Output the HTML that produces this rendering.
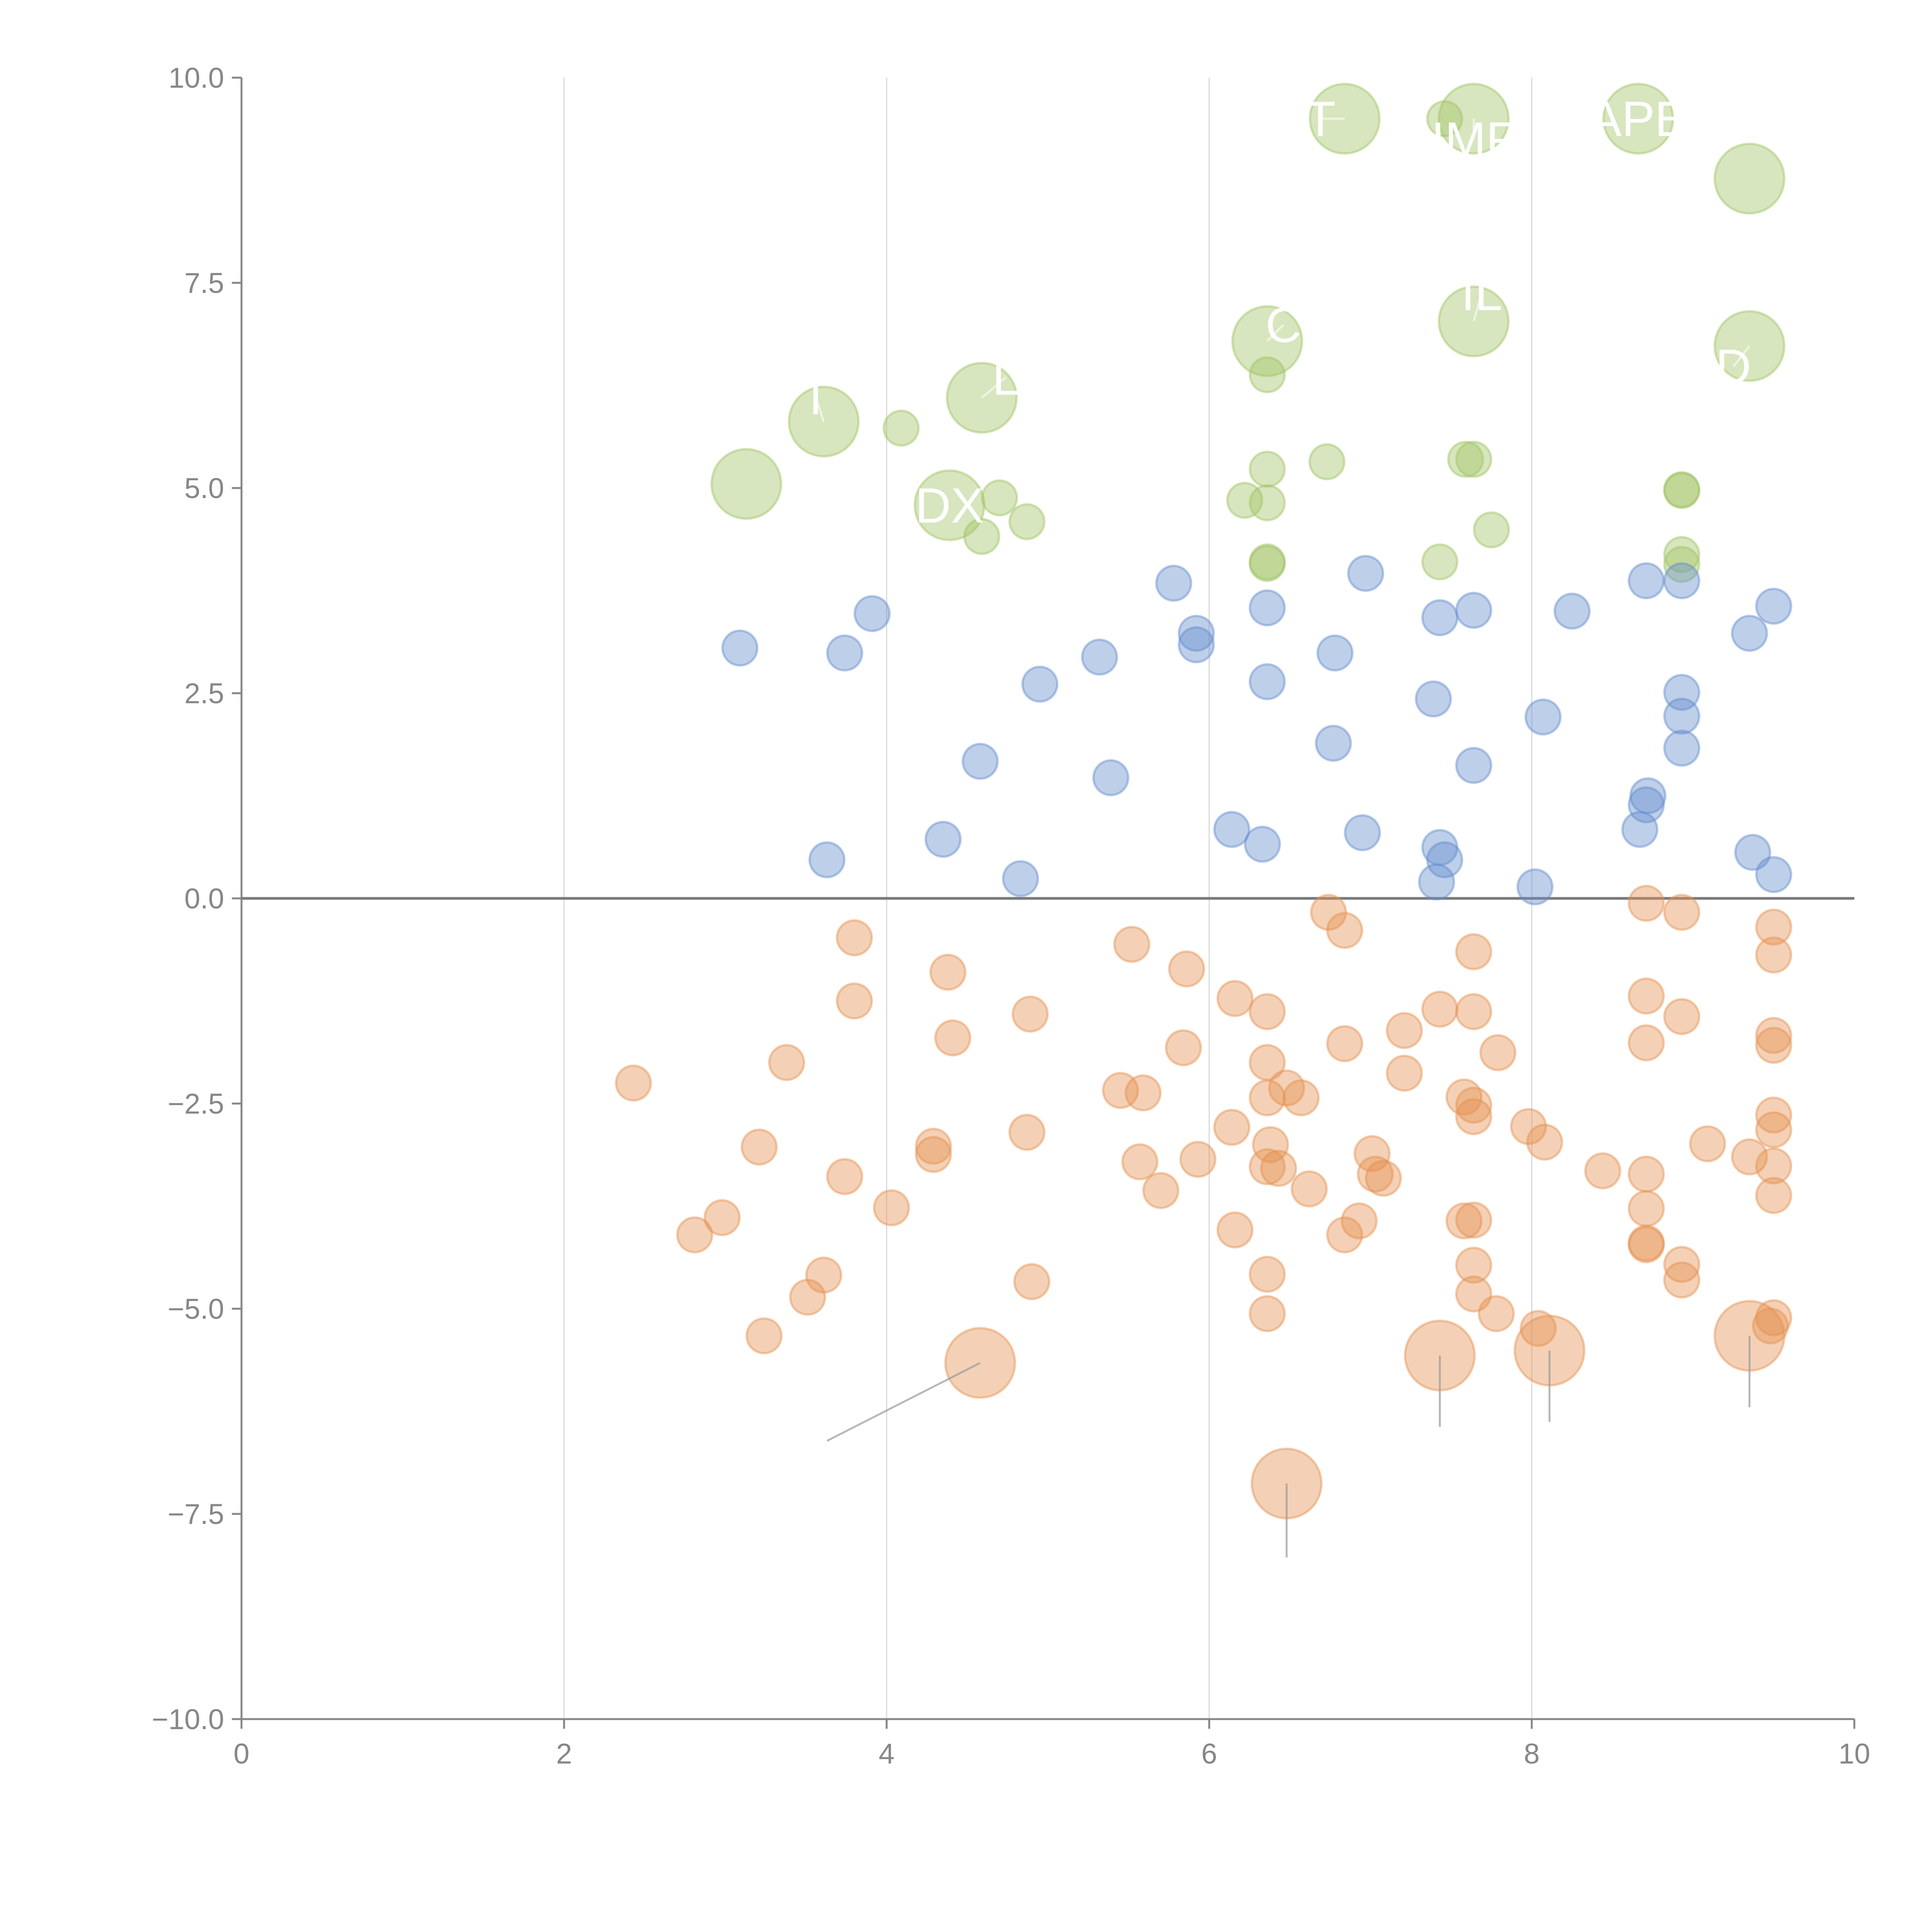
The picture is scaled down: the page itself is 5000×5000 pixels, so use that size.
<!DOCTYPE html>
<html><head><meta charset="utf-8"><style>
html,body{margin:0;padding:0;background:#fff;}
svg{display:block;}
text{font-family:"Liberation Sans",Arial,sans-serif;}
</style></head>
<body>
<svg id="chart" width="5000" height="5000" viewBox="0 0 5000 5000" xmlns="http://www.w3.org/2000/svg">
<g id="grid"></g>
<g id="axes"></g>
<g id="marks"></g>
<g id="labels"></g>
</svg>
<script>
const xTicks = [0, 2, 4, 6, 8, 10];
const yTicks = [-10, -7.5, -5, -2.5, 0, 2.5, 5, 7.5, 10];
const yTickLabels = ["\u221210.0","\u22127.5","\u22125.0","\u22122.5","0.0","2.5","5.0","7.5","10.0"];

const greenX = [7.46,4.09,6.73,7.59,7.64,6.22,6.36,6.36,6.36,4.70,4.59,4.87,6.36,6.36,7.43,7.75,8.93,8.93,8.93,8.93, 6.84,7.64,8.66,9.35,7.64,6.36,9.35,4.59,3.61,3.13,4.39];
const greenY = [9.5,5.73,5.32,5.35,5.35,4.85,5.23,4.82,6.38,4.88,4.41,4.59,4.10,4.08,4.10,4.49,4.98,4.97,4.19,4.07, 9.5,9.5,9.5,8.77,7.03,6.79,6.73,6.10,5.81,5.05,4.79];
const greenS = [1,1,1,1,1,1,1,1,1,1,1,1,1,1,1,1,1,1,1,1, 4,4,4,4,4,4,4,4,4,4,4];

const blueX = [3.09,3.74,3.91,3.63,4.35,4.58,4.83,4.95,5.32,5.39,5.78,5.92,5.92,6.14,6.33,6.36,6.36,6.78,6.77,6.95,6.97,7.39,7.43,7.43,7.46,7.41,7.64,7.64,8.07,8.02,8.25,8.71,8.72,8.71,8.67,8.93,8.93,8.93,8.93,9.35,9.50,9.37,9.50];
const blueY = [3.05,2.99,3.47,0.47,0.72,1.67,0.24,2.61,2.94,1.47,3.84,3.23,3.09,0.84,0.66,3.54,2.64,2.99,1.89,0.80,3.96,2.43,3.42,0.62,0.47,0.20,3.51,1.62,2.21,0.14,3.50,3.87,1.25,1.14,0.84,3.87,2.51,2.22,1.83,3.23,3.56,0.56,0.29];

const orangeX = [2.43,2.81,2.98,3.21,3.24,3.38,3.51,3.61,3.74,3.80,3.80,4.03,4.29,4.29,4.38,4.41,4.87,4.89,4.90,5.45,5.52,5.59,5.57,5.70,5.86,5.84,5.93,6.14,6.16,6.16,6.36,6.36,6.36,6.38,6.36,6.43,6.36,6.36,6.48,6.57,6.62,6.74,6.84,6.84,6.84,6.93,7.01,7.03,7.08,7.21,7.21,7.43,7.58,7.64,7.64,7.64,7.64,7.58,7.64,7.64,7.64,7.78,7.79,7.98,8.08,8.04,8.44,8.71,8.71,8.71,8.71,8.71,8.71,8.71,8.93,8.93,8.93,8.93,9.09,9.35,9.50,9.50,9.50,9.50,9.50,9.50,9.50,9.50,9.50,9.48, 4.58,7.43,8.11,9.35,6.48];
const orangeY = [-2.25,-4.10,-3.89,-3.03,-5.33,-2.00,-4.86,-4.59,-3.39,-0.48,-1.25,-3.77,-3.02,-3.12,-0.90,-1.70,-2.85,-1.41,-4.67,-2.34,-0.56,-2.37,-3.21,-3.56,-0.86,-1.82,-3.18,-2.79,-4.04,-1.22,-1.38,-2.00,-2.43,-3.00,-3.27,-3.29,-4.58,-5.06,-2.31,-2.43,-3.54,-0.17,-0.39,-1.77,-4.10,-3.93,-3.11,-3.36,-3.41,-1.61,-2.13,-1.35,-2.42,-2.52,-2.66,-0.65,-1.38,-3.93,-3.92,-4.47,-4.82,-5.06,-1.88,-2.78,-2.97,-5.24,-3.32,-0.06,-1.19,-1.76,-3.36,-3.78,-4.20,-4.22,-0.17,-1.44,-4.46,-4.65,-2.99,-3.15,-0.35,-0.69,-1.67,-1.79,-2.64,-2.82,-3.26,-3.62,-5.11,-5.21, -5.66,-5.57,-5.51,-5.33,-7.13];
const orangeS = orangeX.map((v,i)=> i >= orangeX.length-5 ? 4 : 1);

const greenLabels = [["T",6.84,9.5,-0.15,0.0],["IMF",7.64,9.5,0.0,-0.25],["APE",8.66,9.5,0.0,0.0],["IL",7.64,7.03,0.05,0.35],["C",6.36,6.79,0.1,0.2],["D",9.35,6.73,-0.1,-0.25],["L",4.59,6.10,0.15,0.25],["T",3.61,5.81,-0.05,0.3],["DX",4.39,4.79,0.0,0.0]];
const orangeLeaders = [[4.58,-5.66,-0.95,-0.95],[7.43,-5.57,0,-0.87],[8.11,-5.51,0,-0.87],[9.35,-5.33,0,-0.87],[6.48,-7.13,0,-0.9]];

const X0=625, X1=4799, YT=201, YB=4449;
const xs = v => X0 + (v-0)/(10-0)*(X1-X0);
const ys = v => YB - (v+10)/20*(YB-YT);
const rs = s => 45*Math.sqrt(s);
const NS="http://www.w3.org/2000/svg";
function mk(tag, parent, attrs){const e=document.createElementNS(NS,tag);for(const k in attrs)e.setAttribute(k,attrs[k]);parent.appendChild(e);return e;}
const grid=document.getElementById('grid'), axes=document.getElementById('axes'), marks=document.getElementById('marks'), labels=document.getElementById('labels');
const GREY="#878787";

xTicks.forEach(t=>{
  if(t>0 && t<10){
    const g=mk('line',grid,{x1:xs(t),x2:xs(t),y1:YT,y2:YB,stroke:"#d9d9d9","stroke-width":3});
    
    
  }
  const tk=mk('line',axes,{x1:xs(t),x2:xs(t),y1:YB,y2:YB+25,stroke:GREY,"stroke-width":5});
  
  
  const tx=mk('text',axes,{x:xs(t),y:YB+115,"text-anchor":"middle","font-size":74,fill:GREY});
  tx.textContent=String(t);
  
  
});
yTicks.forEach((t,i)=>{
  const tk=mk('line',axes,{x1:X0-25,x2:X0,y1:ys(t),y2:ys(t),stroke:GREY,"stroke-width":5});
  
  
  const tx=mk('text',axes,{x:X0-45,y:ys(t)+26,"text-anchor":"end","font-size":74,fill:GREY});
  tx.textContent=yTickLabels[i];
  
  
});
const ya=mk('line',axes,{x1:X0,x2:X0,y1:YT,y2:YB,stroke:GREY,"stroke-width":5});


const xa=mk('line',axes,{x1:X0,x2:X1,y1:YB,y2:YB,stroke:GREY,"stroke-width":5});


const zl=mk('line',axes,{x1:X0,x2:X1,y1:ys(0),y2:ys(0),stroke:"#7a7a7a","stroke-width":7});



function series(X,Y,S,fill,name){
  X.forEach((x,i)=>{
    const c=mk('circle',marks,{cx:xs(x),cy:ys(Y[i]),r:rs(S[i]),fill:fill,"fill-opacity":0.42,stroke:fill,"stroke-opacity":0.45,"stroke-width":6});
    
    
  });
}
series(greenX,greenY,greenS,"rgb(160,196,100)","green-bubble");
series(blueX,blueY,blueX.map(()=>1),"rgb(100,140,205)","blue-bubble");
series(orangeX,orangeY,orangeS,"rgb(228,145,80)","orange-bubble");

orangeLeaders.forEach(l=>{
  const ln=mk('line',labels,{x1:xs(l[0]),y1:ys(l[1]),x2:xs(l[0]+l[2]),y2:ys(l[1]+l[3]),stroke:"#999","stroke-opacity":0.7,"stroke-width":5});
  
  
});
greenLabels.forEach(l=>{
  const ln=mk('line',labels,{x1:xs(l[1]),y1:ys(l[2]),x2:xs(l[1]+l[3]),y2:ys(l[2]+l[4]),stroke:"#fff","stroke-opacity":0.6,"stroke-width":5});
  
  
  const tx=mk('text',labels,{x:xs(l[1]+l[3]),y:ys(l[2]+l[4])+45,"text-anchor":"middle","font-size":128,fill:"#fff"});
  tx.textContent=l[0];
  
  
});
</script>
</body></html>
